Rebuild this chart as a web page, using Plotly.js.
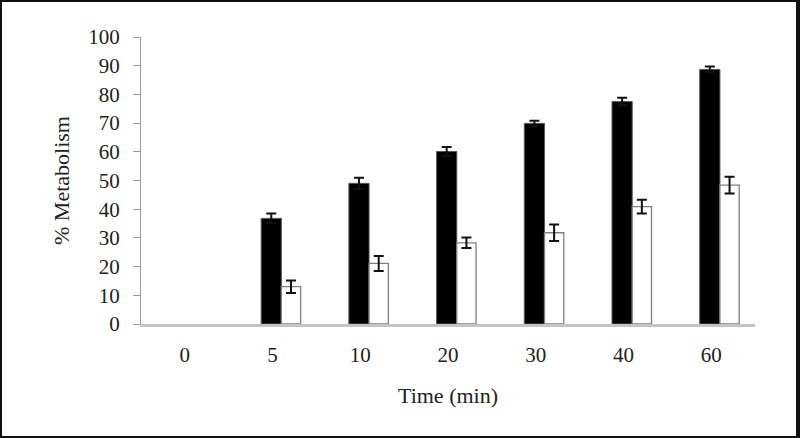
<!DOCTYPE html>
<html>
<head>
<meta charset="utf-8">
<script src="https://cdn.plot.ly/plotly-3.0.1.min.js"></script>
<style>
html,body{margin:0;padding:0;background:#fff;}
#wrap{position:relative;width:800px;height:438px;}
#chart{width:800px;height:438px;}
#frame{position:absolute;left:0;top:0;width:800px;height:438px;box-sizing:border-box;border:2px solid #111;border-right-width:4px;pointer-events:none;}
</style>
</head>
<body>
<div id="wrap"><div id="chart"></div><div id="frame"></div></div>
<script>
var timeLabels = ["0", "5", "10", "20", "30", "40", "60"];
var blackValues = [0, 36.8, 49.0, 60.1, 69.9, 77.5, 88.7];
var blackErrors = [NaN, 1.7, 2.0, 1.6, 0.9, 1.3, 1.0];
var whiteValues = [0, 13.0, 21.1, 28.3, 31.8, 40.9, 48.4];
var whiteErrors = [NaN, 2.2, 2.6, 1.8, 2.9, 2.4, 2.9];

var idx = timeLabels.map(function(_, i){ return i; });
function outlineWidths(vals, w){ return vals.map(function(v){ return v > 0 ? w : 0; }); }

var traces = [
  {
    type: "bar", x: idx, y: blackValues,
    offset: -0.13, width: 0.23,
    marker: {color: "#000", line: {color: "#555", width: outlineWidths(blackValues, 1)}},
    error_y: {type: "data", array: blackErrors, visible: true, color: "#111", thickness: 2, width: 5},
    hoverinfo: "none", showlegend: false
  },
  {
    type: "bar", x: idx, y: whiteValues,
    offset: 0.10, width: 0.22,
    marker: {color: "#fff", line: {color: "#7f7f7f", width: outlineWidths(whiteValues, 1.3)}},
    error_y: {type: "data", array: whiteErrors, visible: true, color: "#111", thickness: 2, width: 5},
    hoverinfo: "none", showlegend: false
  }
];

var layout = {
  width: 800, height: 438,
  margin: {l: 141, r: 45, t: 37, b: 114},
  paper_bgcolor: "#fff", plot_bgcolor: "#fff",
  font: {family: "Liberation Serif, Times New Roman, serif", color: "#222", size: 21},
  barmode: "group",
  xaxis: {
    range: [-0.5, 6.5],
    tickmode: "array", tickvals: idx, ticktext: timeLabels,
    showgrid: false, zeroline: false,
    showline: true, linecolor: "#c4c4c4", linewidth: 3,
    ticks: "", ticklabelstandoff: 10,
    tickfont: {size: 21},
    title: {text: "Time (min)", font: {size: 22}, standoff: 22}
  },
  yaxis: {
    range: [0, 100], dtick: 10, tick0: 0,
    showgrid: false, zeroline: false,
    showline: true, linecolor: "#9a9a9a", linewidth: 1,
    ticks: "outside", ticklen: 7, tickcolor: "#9a9a9a", tickwidth: 1,
    ticklabelstandoff: 9,
    tickfont: {size: 21},
    title: {text: "% Metabolism", font: {size: 22}, standoff: 12}
  }
};

Plotly.newPlot("chart", traces, layout, {staticPlot: true, displayModeBar: false});
</script>
</body>
</html>
